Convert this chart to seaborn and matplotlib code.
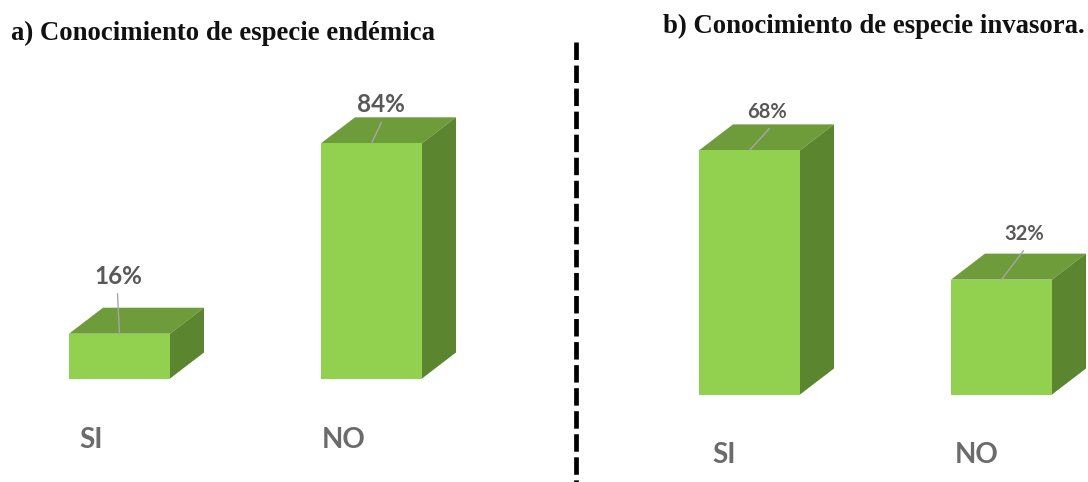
import matplotlib
matplotlib.use("Agg")
import matplotlib.pyplot as plt
from matplotlib.lines import Line2D
from matplotlib.patches import Polygon
from matplotlib.transforms import ScaledTranslation
import pandas as pd
import seaborn as sns

categories = ["SI", "NO"]
endemic_values = [16, 84]
invasive_values = [68, 32]
title_endemic = "a) Conocimiento de especie endémica"
title_invasive = "b) Conocimiento de especie invasora."

W, H, DPI = 1088, 482, 100
FRONT, TOP, SIDE = "#92D050", "#6F9C3B", "#5C852F"
TEXT_GREY = "#595959"
LEADER = "#A6A6A6"
UNIT_PX = 252      # distance between bar centres
BAR_PX = 101       # bar width
DEPTH_X, DEPTH_Y = 34, 26   # oblique extrusion of each box

sns.set_theme(style="white")
plt.rcParams["font.family"] = ["Lato", "DejaVu Sans"]

fig = plt.figure(figsize=(W / DPI, H / DPI), dpi=DPI, facecolor="white")


def panel(values, px_left, px_right, px_top, px_base, first_centre, px_per_pct,
          label_size, label_offsets, leader_ends, tick_pad, tick_shift):
    ax = fig.add_axes([px_left / W, 1 - px_base / H,
                       (px_right - px_left) / W, (px_base - px_top) / H])
    frame = pd.DataFrame({"respuesta": categories, "porcentaje": values})
    sns.barplot(data=frame, x="respuesta", y="porcentaje", color=FRONT, saturation=1,
                width=BAR_PX / UNIT_PX, ax=ax, zorder=3, edgecolor="none", linewidth=0)
    ax.set_xlim((px_left - first_centre) / UNIT_PX, (px_right - first_centre) / UNIT_PX)
    ax.set_ylim(0, (px_base - px_top) / px_per_pct)

    dx = DEPTH_X / UNIT_PX
    dy = DEPTH_Y / px_per_pct
    for bar in ax.patches[:len(values)]:
        x0, x1 = bar.get_x(), bar.get_x() + bar.get_width()
        h = bar.get_height()
        ax.add_patch(Polygon([(x0, h), (x1, h), (x1 + dx, h + dy), (x0 + dx, h + dy)],
                             closed=True, fc=TOP, ec="none", zorder=2))
        ax.add_patch(Polygon([(x1, 0), (x1 + dx, dy), (x1 + dx, h + dy), (x1, h)],
                             closed=True, fc=SIDE, ec="none", zorder=2))

    for i, v in enumerate(values):
        ax.annotate("", xy=(i, v), xycoords="data",
                    xytext=leader_ends[i], textcoords="offset pixels",
                    arrowprops=dict(arrowstyle="-", color=LEADER, lw=1,
                                    shrinkA=0, shrinkB=0, relpos=(0.5, 0.5)),
                    annotation_clip=False, zorder=5)
        ax.annotate(f"{v}%", xy=(i, v), xycoords="data",
                    xytext=label_offsets[i], textcoords="offset pixels",
                    ha="center", va="center", fontsize=label_size, fontweight="bold",
                    color=TEXT_GREY, zorder=6)

    ax.set_xlabel("")
    ax.set_ylabel("")
    ax.yaxis.set_visible(False)
    ax.tick_params(axis="x", length=0, pad=tick_pad)
    ax.set_xticks(range(len(categories)), categories)
    shift = ScaledTranslation(tick_shift / DPI, 0, fig.dpi_scale_trans)
    for lab in ax.get_xticklabels():
        lab.set_fontsize(20)
        lab.set_fontweight("bold")
        lab.set_color("#6B6B6B")
        lab.set_transform(lab.get_transform() + shift)
    for s in ax.spines.values():
        s.set_visible(False)
    ax.patch.set_alpha(0)
    return ax


panel(endemic_values, 0, 560, 40, 378.5, 119.5, 2.8, 17.5,
      label_offsets=[(-1, 57), (9, 39)],
      leader_ends=[(-2, 40), (10, 21)], tick_pad=35, tick_shift=-28)
panel(invasive_values, 590, 1088, 40, 394.5, 749.5, 3.59, 14.5,
      label_offsets=[(18, 38), (23, 46)],
      leader_ends=[(20, 22), (22, 29)], tick_pad=34, tick_shift=-25)

fig.text(11 / W, 1 - 33 / H, title_endemic, family="Liberation Serif", fontweight="bold",
         fontsize=19.3, color="#111111", ha="left", va="center")
fig.text(663 / W, 1 - 26 / H, title_invasive, family="Liberation Serif", fontweight="bold",
         fontsize=19.3, color="#111111", ha="left", va="center")

# Dashed divider between the two panels
fig.add_artist(Line2D([576 / W, 576 / W], [1 - 42 / H, -0.02], color="black", lw=3.4,
                      linestyle=(0, (3.7, 1.18)), dash_capstyle="butt"))

fig.savefig("out.png", dpi=DPI, facecolor="white")
